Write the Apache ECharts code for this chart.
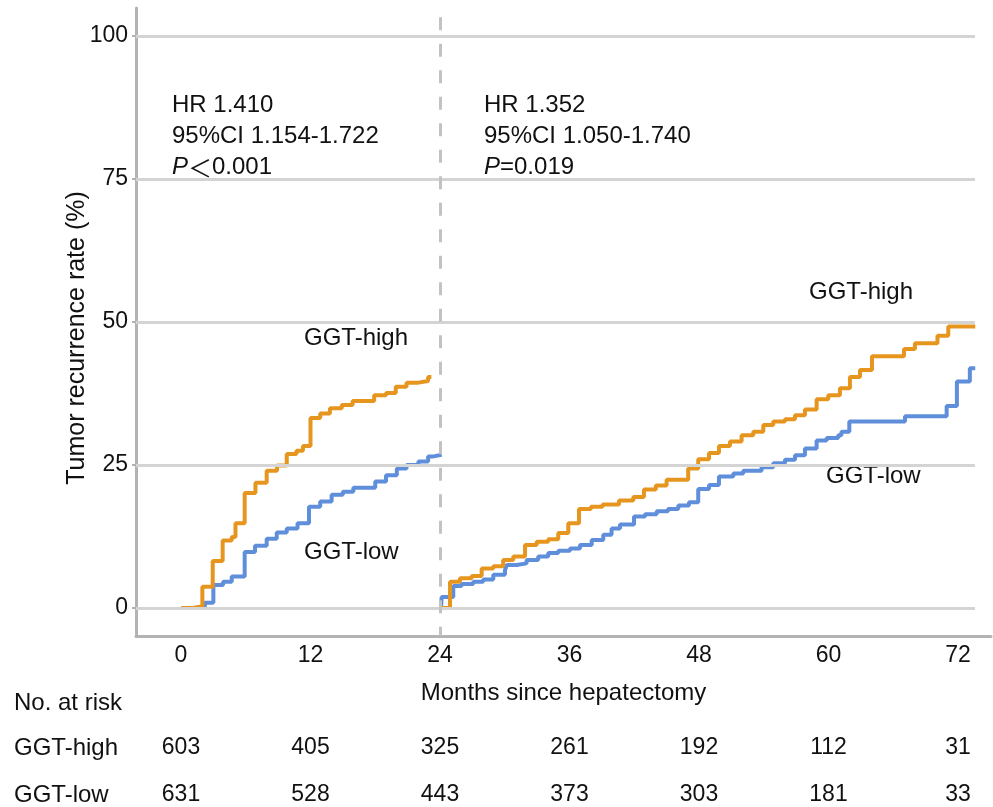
<!DOCTYPE html>
<html>
<head>
<meta charset="utf-8">
<script src="https://cdn.jsdelivr.net/npm/echarts@6/dist/echarts.min.js"></script>
<style>
html,body{margin:0;padding:0;background:#fff;}
#chart{width:993px;height:807px;}
</style>
</head>
<body>
<div id="chart"></div>
<script>
// ---------- data ----------
const xTicks = [0, 12, 24, 36, 48, 60, 72];
const yTicks = [0, 25, 50, 75, 100];
const groups = ['GGT-high', 'GGT-low'];

// cumulative recurrence (%) step points [month, value after step]
const highFirst = [[0,0],[1.1,0.3],[1.98,3.7],[2.94,8.2],[3.86,11.8],[4.7,12.4],[5.05,14.8],[5.9,20.1],[6.9,21.9],[7.94,24.0],[8.9,24.9],[9.8,26.9],[10.7,27.5],[11.3,28.3],[12.0,33.2],[12.9,34.0],[13.8,34.9],[14.9,35.5],[15.9,36.2],[17.9,37.2],[19.0,37.6],[19.9,38.7],[20.9,39.4],[22.0,39.7],[22.9,40.4],[23.2,40.4]];
const lowFirst = [[0,0],[2.2,0.9],[3.0,4.0],[3.9,4.6],[4.7,5.5],[5.9,9.8],[6.86,10.9],[7.94,12.1],[8.87,13.2],[9.8,13.9],[10.8,14.8],[11.86,17.7],[12.9,18.6],[13.96,19.8],[15.0,20.3],[15.97,21.0],[18.0,22.1],[19.0,23.2],[20.0,24.4],[20.9,25.0],[22.0,25.6],[22.9,26.5],[23.4,26.8],[24.15,26.8]];
const highSecond = [[24.1,0],[24.93,4.6],[25.85,5.2],[26.94,5.6],[27.86,6.9],[28.94,7.3],[29.86,8.4],[30.79,9.0],[31.88,11.0],[32.96,11.6],[34.03,12.0],[34.96,13.1],[35.89,14.8],[36.88,17.3],[37.99,17.7],[39.06,18.1],[40.59,18.8],[41.91,19.4],[42.9,20.7],[44.0,21.4],[45.0,22.4],[47.0,24.4],[47.93,26.0],[48.93,27.1],[49.85,28.3],[50.87,29.1],[51.95,30.2],[53.03,30.8],[53.96,32.0],[54.88,32.6],[55.97,33.0],[56.9,33.7],[57.82,34.7],[58.9,36.5],[59.98,37.2],[61.06,38.4],[61.99,40.4],[62.92,41.6],[64.03,44.0],[67.0,45.3],[68.01,46.3],[70.1,47.6],[71.1,49.2],[73.6,49.2]];
const lowSecond = [[24.1,0],[24.15,1.9],[25.23,3.85],[26.0,4.2],[27.08,4.6],[28.0,5.0],[28.94,5.8],[30.02,6.6],[30.2,7.5],[31.1,7.8],[32.03,8.4],[33.1,9.0],[34.03,9.6],[34.96,10.0],[36.05,10.4],[36.97,11.0],[38.06,11.9],[39.13,12.8],[39.9,13.9],[40.68,14.6],[41.98,16.0],[43.0,16.4],[44.08,16.9],[45.13,17.3],[46.08,17.9],[47.07,18.5],[47.93,20.8],[48.93,21.5],[49.85,23.0],[51.18,23.5],[52.1,24.0],[53.8,24.6],[54.88,25.3],[55.97,25.9],[56.9,26.7],[57.82,27.9],[58.9,29.3],[59.83,29.7],[60.9,30.2],[61.2,30.8],[61.93,32.6],[67.09,33.5],[70.95,35.3],[71.9,39.6],[73.1,41.9],[73.6,41.9]];

// number at risk
const riskMonths = [0, 12, 24, 36, 48, 60, 72];
const riskHigh = [603, 405, 325, 261, 192, 112, 31];
const riskLow = [631, 528, 443, 373, 303, 181, 33];

// ---------- style ----------
const ORANGE = '#E6961F';
const BLUE = '#5F8EDA';
const TEXT = '#111111';
const AXIS = '#b3b3b3';
const GRID = '#d4d4d4';
const FONT = '"Liberation Sans", Arial, sans-serif';
const FS = 24;   // words
const FN = 23;   // tick numbers
const X_MIN = -4.17, X_MAX = 75.06, X_GRID_END = 73.57;
const Y_MIN = -4.9, Y_MAX = 104.9;

const chart = echarts.init(document.getElementById('chart'), null, {renderer: 'canvas'});

const riskData = [];
riskMonths.forEach((m, i) => {
  riskData.push([m, 0, riskHigh[i]]);
  riskData.push([m, 1, riskLow[i]]);
});

const gridLines = yTicks.map(v => [{coord: [X_MIN, v]}, {coord: [X_GRID_END, v]}]);

function curve(name, data, color, z) {
  return {
    type: 'line', name: name, data: data, step: 'end', showSymbol: false, symbol: 'none',
    xAxisIndex: 0, yAxisIndex: 0, z: z,
    lineStyle: {color: color, width: 4}, itemStyle: {color: color},
    silent: true
  };
}

const richStyle = {
  i: {fontStyle: 'italic', fontSize: FS, fontFamily: FONT, fill: TEXT, lineHeight: 31},
  lt: {fontSize: FS, fontFamily: '"Noto Sans CJK SC", sans-serif', fill: TEXT, lineHeight: 31}
};

chart.setOption({
  animation: false,
  textStyle: {fontFamily: FONT},
  grid: [
    {left: 136, right: 2, top: 8, bottom: 171, containLabel: false},
    {left: 136, right: 2, top: 748, height: 48, containLabel: false}
  ],
  xAxis: [
    {
      type: 'value', gridIndex: 0, min: X_MIN, max: X_MAX,
      axisLine: {show: true, onZero: false, lineStyle: {color: AXIS, width: 3}},
      axisTick: {show: false},
      splitLine: {show: false},
      axisLabel: {customValues: xTicks, color: TEXT, fontSize: FN, fontFamily: FONT, margin: 8},
      name: 'Months since hepatectomy', nameLocation: 'middle', nameGap: 45,
      nameTextStyle: {color: TEXT, fontSize: FS, fontFamily: FONT}
    },
    {
      type: 'value', gridIndex: 1, min: X_MIN, max: X_MAX, show: false
    }
  ],
  yAxis: [
    {
      type: 'value', gridIndex: 0, min: Y_MIN, max: Y_MAX,
      axisLine: {show: true, onZero: false, lineStyle: {color: AXIS, width: 3}},
      axisTick: {show: true, customValues: yTicks, length: 4, lineStyle: {color: AXIS, width: 2}},
      splitLine: {show: false},
      axisLabel: {customValues: yTicks, color: TEXT, fontSize: FN, fontFamily: FONT, margin: 8},
      name: 'Tumor recurrence rate (%)', nameLocation: 'middle', nameGap: 46, nameMoveOverlap: false,
      nameTextStyle: {color: TEXT, fontSize: 25, fontFamily: FONT, padding: [0, 32, 0, 0]}
    },
    {
      type: 'category', gridIndex: 1, data: groups, inverse: true, boundaryGap: false,
      axisLine: {show: false}, axisTick: {show: false}, splitLine: {show: false},
      axisLabel: {color: TEXT, fontSize: FS, fontFamily: FONT, align: 'left', margin: 122}
    }
  ],
  series: [
    {
      type: 'line', data: [], xAxisIndex: 0, yAxisIndex: 0, z: 1, silent: true,
      markLine: {
        silent: true, symbol: 'none', label: {show: false}, animation: false,
        lineStyle: {color: GRID, width: 3, type: 'solid'},
        data: gridLines.concat([[
          {coord: [24, 103.3], lineStyle: {color: '#c2c2c2', width: 3, type: [13, 13.5]}},
          {coord: [24, Y_MIN]}
        ]])
      }
    },
    curve('GGT-low', lowFirst, BLUE, 3),
    curve('GGT-low', lowSecond, BLUE, 3),
    curve('GGT-high', highFirst, ORANGE, 4),
    curve('GGT-high', highSecond, ORANGE, 4),
    {
      type: 'scatter', xAxisIndex: 1, yAxisIndex: 1, data: riskData, symbolSize: 0, silent: true,
      itemStyle: {opacity: 1},
      label: {show: true, position: 'inside', color: TEXT, fontSize: FN, fontFamily: FONT, opacity: 1,
        formatter: p => String(p.value[2])}
    }
  ],
  graphic: [
    {type: 'text', left: 14, top: 691, style: {text: 'No. at risk', fill: TEXT, font: FS + 'px ' + FONT}},
    {type: 'text', left: 172, top: 90, style: {
      text: 'HR 1.410\n95%CI 1.154-1.722\n{i|P}{lt|＜}0.001', fill: TEXT, font: FS + 'px ' + FONT, lineHeight: 31,
      rich: richStyle}},
    {type: 'text', left: 484, top: 90, style: {
      text: 'HR 1.352\n95%CI 1.050-1.740\n{i|P}=0.019', fill: TEXT, font: FS + 'px ' + FONT, lineHeight: 31,
      rich: richStyle}},
    {type: 'text', left: 304, top: 326, style: {text: 'GGT-high', fill: TEXT, font: FS + 'px ' + FONT}},
    {type: 'text', left: 304, top: 540, style: {text: 'GGT-low', fill: TEXT, font: FS + 'px ' + FONT}},
    {type: 'text', left: 809, top: 280, style: {text: 'GGT-high', fill: TEXT, font: FS + 'px ' + FONT}},
    {type: 'text', left: 826, top: 464, style: {text: 'GGT-low', fill: TEXT, font: FS + 'px ' + FONT}}
  ]
});
</script>
</body>
</html>
